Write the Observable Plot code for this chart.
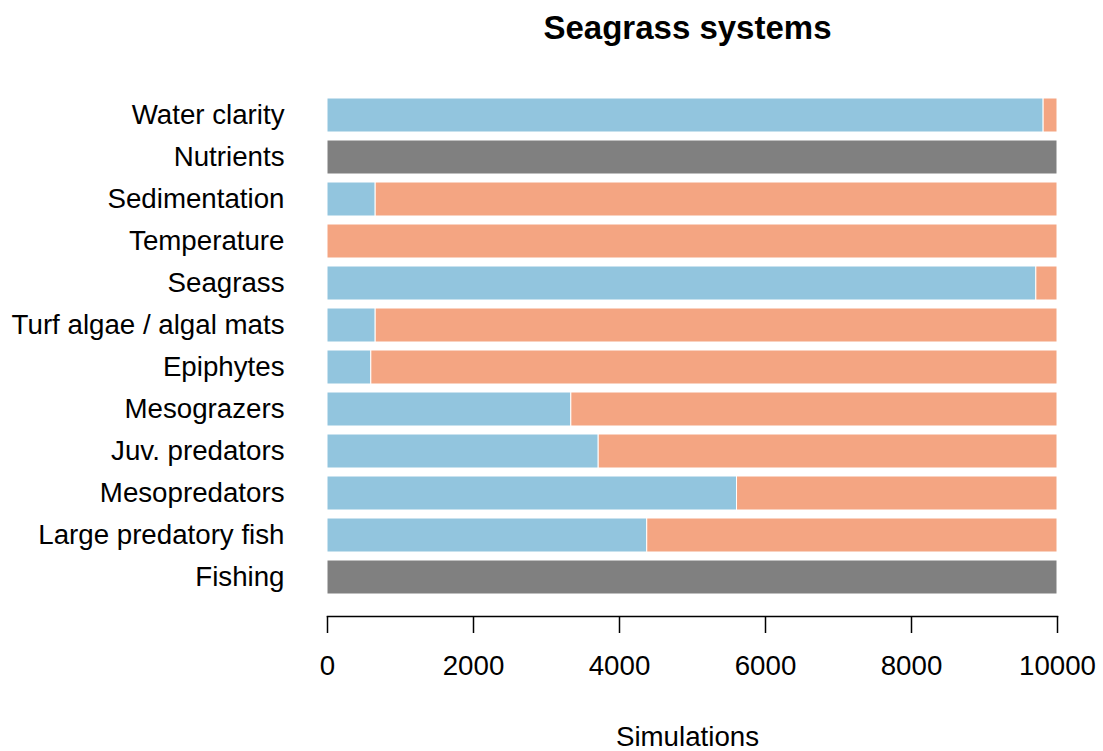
<!DOCTYPE html>
<html>
<head>
<meta charset="utf-8">
<script src="https://cdn.jsdelivr.net/npm/d3@7"></script>
<script src="https://cdn.jsdelivr.net/npm/@observablehq/plot@0.6"></script>
<style>
  body { margin: 0; background: #fff; font-family: "Liberation Sans", Arial, sans-serif; }
  #title { height: 55px; line-height: 55px; font-size: 33px; font-weight: bold; text-align: center; padding-left: 318px; padding-right: 46px; box-sizing: border-box; width: 1103px; }
  #chart svg { display: block; }
  #xlab { height: 51px; box-sizing: border-box; padding-top: 22px; line-height: 30px; font-size: 27.7px; text-align: center; padding-left: 318px; padding-right: 46px; width: 1103px; }
</style>
</head>
<body>
<div id="title">Seagrass systems</div>
<div id="chart"></div>
<div id="xlab">Simulations</div>
<script>
const categories = ["Water clarity", "Nutrients", "Sedimentation", "Temperature", "Seagrass",
  "Turf algae / algal mats", "Epiphytes", "Mesograzers", "Juv. predators", "Mesopredators",
  "Large predatory fish", "Fishing"];
const total = 10000;
const positive = [9810, 0, 660, 0, 9710, 660, 600, 3340, 3715, 5610, 4380, 0];
const negative = [190, 0, 9340, 10000, 290, 9340, 9400, 6660, 6285, 4390, 5620, 0];
const neutral  = [0, 10000, 0, 0, 0, 0, 0, 0, 0, 0, 0, 10000];
const xTicks = [0, 2000, 4000, 6000, 8000, 10000];

const types = ["positive", "negative", "neutral"];
const colors = ["#92C5DE", "#F4A582", "#808080"];
const series = {positive, negative, neutral};
const rows = [];
categories.forEach((c, i) => {
  types.forEach(t => {
    if (series[t][i] > 0) rows.push({category: c, type: t, value: series[t][i]});
  });
});

const step = 42.45;
const chart = Plot.plot({
  width: 1103,
  height: 645,
  marginLeft: 327,
  marginRight: 46,
  marginTop: 20,
  marginBottom: 84,
  style: {fontFamily: "'Liberation Sans', Arial, sans-serif", fontSize: "27.7px", color: "#000", background: "#fff"},
  x: {domain: [0, total]},
  y: {domain: categories, range: [31.5, 31.5 + 12.2 * step], padding: 0.2},
  color: {domain: types, range: colors},
  marks: [
    Plot.barX(rows, Plot.stackX({y: "category", x: "value", fill: "type", order: types, stroke: "white", strokeWidth: 1})),
    Plot.frame({anchor: "bottom", stroke: "#000", strokeWidth: 1.5}),
    Plot.axisX({ticks: xTicks, tickFormat: d => String(d), tickSize: 17, tickPadding: 22, label: null, stroke: "#000", strokeWidth: 1.5, fill: "#000"}),
    Plot.axisY({tickSize: 0, tickPadding: 43, label: null, fill: "#000"})
  ]
});
document.getElementById("chart").appendChild(chart);
</script>
</body>
</html>
